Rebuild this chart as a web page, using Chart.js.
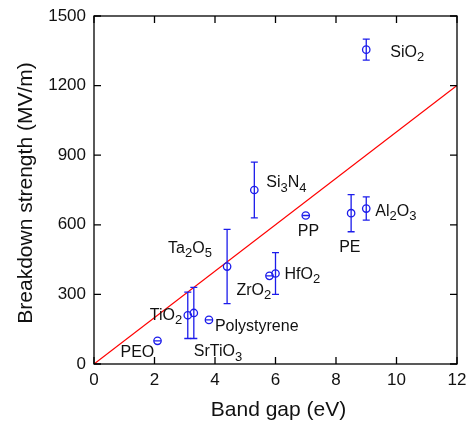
<!DOCTYPE html>
<html>
<head>
<meta charset="utf-8">
<script src="https://cdn.jsdelivr.net/npm/chart.js@4/dist/chart.umd.min.js"></script>
<style>
  html, body { margin: 0; padding: 0; background: #fff; }
  #chart { display: block; }
</style>
</head>
<body>
<canvas id="chart" width="467" height="426"></canvas>
<script>
// material labels ("_" marks a subscript digit)
const materials = ['SiO_2', 'Si_3N_4', 'PP', 'PE', 'Al_2O_3', 'Ta_2O_5', 'HfO_2', 'ZrO_2', 'TiO_2', 'SrTiO_3', 'Polystyrene', 'PEO'];
const bandGap = [9.0, 5.3, 7.0, 8.5, 9.0, 4.4, 6.0, 5.8, 3.1, 3.3, 3.8, 2.1];
const strength = [1355, 750, 640, 650, 670, 420, 390, 380, 210, 220, 190, 100];
const strengthErr = [45, 120, 0, 80, 50, 160, 90, 0, 100, 110, 0, 0];

// reference line
const lineX = [0, 12];
const lineY = [0, 1200];

const xTicks = [0, 2, 4, 6, 8, 10, 12];
const yTicks = [0, 300, 600, 900, 1200, 1500];

const FONT = '"Liberation Sans", Arial, sans-serif';
const BLUE = 'rgb(28, 28, 235)';

// where each label sits, relative to its point (px)
const labelOffsets = [
  [24, 3], [12, -7], [-8, 16], [-12, 34], [9, 3], [-59, -18],
  [9, 1], [-33, 15], [-38, 0], [0, 39], [6, 7], [-37, 12]
];

function drawRichText(ctx, text, x, y) {
  let parts = text.split(/(_\d)/);
  let cx = x;
  parts.forEach(p => {
    if (!p) return;
    if (p[0] === '_') {
      ctx.font = '13px ' + FONT;
      ctx.fillText(p.slice(1), cx, y + 5);
      cx += ctx.measureText(p.slice(1)).width;
    } else {
      ctx.font = '16px ' + FONT;
      ctx.fillText(p, cx, y);
      cx += ctx.measureText(p).width;
    }
  });
}

const extras = {
  id: 'extras',
  afterDatasetsDraw(chart) {
    const ctx = chart.ctx;
    const xs = chart.scales.x;
    const ys = chart.scales.y;
    const area = chart.chartArea;

    // error bars
    ctx.save();
    ctx.strokeStyle = BLUE;
    ctx.lineWidth = 1.3;
    bandGap.forEach((bx, i) => {
      let px = xs.getPixelForValue(bx);
      let top = ys.getPixelForValue(strength[i] + strengthErr[i]);
      let bot = ys.getPixelForValue(strength[i] - strengthErr[i]);
      ctx.beginPath();
      ctx.moveTo(px, top); ctx.lineTo(px, bot);
      ctx.moveTo(px - 3.5, top); ctx.lineTo(px + 3.5, top);
      ctx.moveTo(px - 3.5, bot); ctx.lineTo(px + 3.5, bot);
      ctx.stroke();
    });
    ctx.restore();

    // labels
    ctx.save();
    ctx.fillStyle = '#111';
    ctx.textBaseline = 'middle';
    ctx.textAlign = 'left';
    materials.forEach((m, i) => {
      let px = xs.getPixelForValue(bandGap[i]);
      let py = ys.getPixelForValue(strength[i]);
      drawRichText(ctx, m, px + labelOffsets[i][0], py + labelOffsets[i][1]);
    });
    ctx.restore();

    // frame and inward ticks on all sides
    ctx.save();
    ctx.strokeStyle = '#000';
    ctx.lineWidth = 1.3;
    ctx.strokeRect(area.left, area.top, area.right - area.left, area.bottom - area.top);
    ctx.beginPath();
    xTicks.forEach(v => {
      let px = xs.getPixelForValue(v);
      ctx.moveTo(px, area.bottom); ctx.lineTo(px, area.bottom - 7);
      ctx.moveTo(px, area.top); ctx.lineTo(px, area.top + 7);
    });
    yTicks.forEach(v => {
      let py = ys.getPixelForValue(v);
      ctx.moveTo(area.left, py); ctx.lineTo(area.left + 7, py);
      ctx.moveTo(area.right, py); ctx.lineTo(area.right - 7, py);
    });
    ctx.stroke();
    ctx.restore();

    // axis titles
    ctx.save();
    ctx.fillStyle = '#111';
    ctx.font = '21px ' + FONT;
    ctx.textAlign = 'center';
    ctx.textBaseline = 'alphabetic';
    ctx.fillText('Band gap (eV)', (area.left + area.right) / 2 + 3, 416);
    ctx.translate(32, (area.top + area.bottom) / 2 + 3);
    ctx.rotate(-Math.PI / 2);
    ctx.fillText('Breakdown strength (MV/m)', 0, 0);
    ctx.restore();
  }
};

const ctx = document.getElementById('chart').getContext('2d');
new Chart(ctx, {
  type: 'scatter',
  data: {
    datasets: [
      {
        data: bandGap.map((x, i) => ({x: x, y: strength[i]})),
        pointStyle: 'circle',
        pointRadius: 3.7,
        pointBorderWidth: 1.3,
        pointBorderColor: BLUE,
        pointBackgroundColor: 'rgba(0,0,0,0)',
        showLine: false
      },
      {
        data: lineX.map((x, i) => ({x: x, y: lineY[i]})),
        showLine: true,
        borderColor: 'rgb(255, 0, 0)',
        borderWidth: 1.2,
        pointRadius: 0
      }
    ]
  },
  options: {
    responsive: false,
    devicePixelRatio: 1,
    animation: false,
    layout: { padding: { left: 0, top: 16, right: 10, bottom: 0 } },
    plugins: { legend: { display: false }, tooltip: { enabled: false } },
    scales: {
      x: {
        type: 'linear',
        min: 0, max: 12,
        afterBuildTicks(scale) { scale.ticks = xTicks.map(v => ({value: v})); },
        afterFit(scale) {
          scale.height = 62;
          scale.paddingLeft = 0;
          scale.paddingRight = 0;
        },
        grid: { display: false, drawTicks: false },
        border: { display: false },
        ticks: { color: '#111', padding: 6, maxRotation: 0, callback: v => String(v), font: { size: 17, family: FONT } }
      },
      y: {
        type: 'linear',
        min: 0, max: 1500,
        afterBuildTicks(scale) { scale.ticks = yTicks.map(v => ({value: v})); },
        afterFit(scale) {
          scale.width = 94;
          scale.paddingTop = 0;
          scale.paddingBottom = 0;
        },
        grid: { display: false, drawTicks: false },
        border: { display: false },
        ticks: { color: '#111', padding: 8, callback: v => String(v), font: { size: 17, family: FONT } }
      }
    }
  },
  plugins: [extras]
});
</script>
</body>
</html>
